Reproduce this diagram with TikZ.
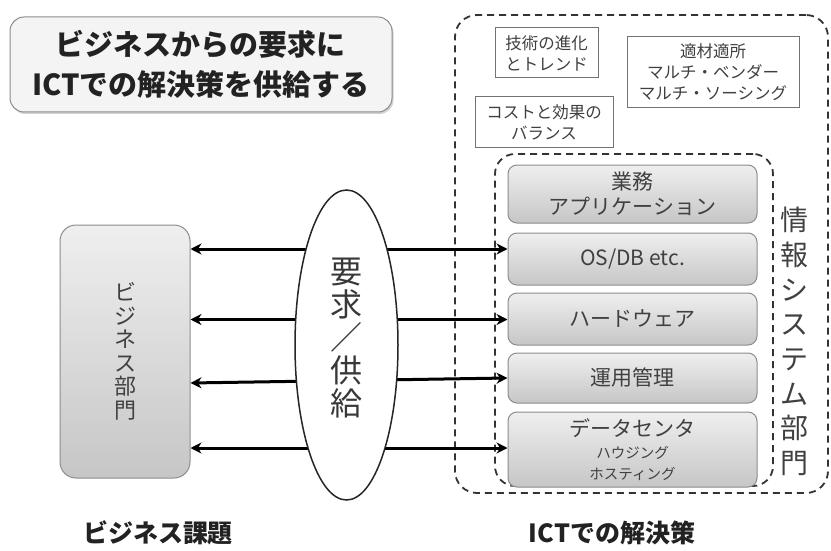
\documentclass[tikz,border=0pt]{standalone}
\usepackage{fontspec}
\setmainfont{Noto Sans CJK JP}
\usetikzlibrary{shapes.geometric,arrows.meta,shadows}
\definecolor{txt}{HTML}{404040}
\definecolor{dark}{HTML}{222222}
\definecolor{boxline}{HTML}{8C8C8C}
\definecolor{gtop}{HTML}{EFEFEF}
\definecolor{gbot}{HTML}{C6C6C6}
\definecolor{dash}{HTML}{333333}
\begin{document}
\begin{tikzpicture}[x=1pt,y=-1pt,
  titlebox/.style={draw=boxline,line width=1pt,rounded corners=14pt,fill=gtop!70!white,
    drop shadow={shadow xshift=1.5pt,shadow yshift=-2pt,fill=black!35},
    minimum width=382pt,minimum height=95pt,align=center,text=dark,
    font=\fontsize{29}{40}\selectfont\bfseries,inner sep=0pt},
  dashbox/.style={draw=dash,line width=1.8pt,dash pattern=on 7pt off 5pt,rounded corners=22pt,inner sep=0pt},
  smallbox/.style={draw=black!55,line width=1pt,fill=white,align=center,text=txt,
    font=\fontsize{16.5}{21}\selectfont,inner sep=0pt},
  stackbox/.style={draw=boxline,line width=1pt,rounded corners=9pt,top color=gtop,bottom color=gbot,
    minimum width=249pt,align=center,text=txt,inner sep=0pt,font=\fontsize{21}{25}\selectfont},
  vtext/.style={align=center,text=txt,inner sep=0pt},
  conn/.style={line width=3pt,{Stealth[length=11pt,width=11pt]}-{Stealth[length=11pt,width=11pt]}},
  bottomlabel/.style={text=dark,font=\fontsize{25}{30}\selectfont\bfseries,inner sep=0pt}]
\useasboundingbox (0,0) rectangle (831,551);

% title
\node[titlebox] (title) at (201,64.5) {ビジネスからの要求に\\ICTでの解決策を供給する};

% dashed regions
\node[dashbox,minimum width=373pt,minimum height=478pt] (outer) at (641.5,254) {};
\node[dashbox,minimum width=278pt,minimum height=332pt,rounded corners=20pt] (inner) at (634,320) {};

% small boxes
\node[smallbox,minimum width=103pt,minimum height=50pt] (tech) at (546.5,53) {技術の進化\\とトレンド};
\node[smallbox,minimum width=172pt,minimum height=71pt] (multi) at (713,72.5) {適材適所\\マルチ・ベンダー\\マルチ・ソーシング};
\node[smallbox,minimum width=138pt,minimum height=50pt] (cost) at (544,122) {コストと効果の\\バランス};

% stack
\node[stackbox,minimum height=58pt] (app) at (632.5,194) {業務\\アプリケーション};
\node[stackbox,minimum height=52pt] (os) at (632.5,259) {OS/DB etc.};
\node[stackbox,minimum height=52pt] (hw) at (632.5,319) {ハードウェア};
\node[stackbox,minimum height=50pt] (ops) at (632.5,378) {運用管理};
\node[stackbox,minimum height=75pt] (dc) at (632.5,449.5) {データセンタ\\[-3pt]{\fontsize{14.5}{18}\selectfont ハウジング}\\[-4pt]{\fontsize{14.5}{18}\selectfont ホスティング}};

% vertical label
\node[vtext,font=\fontsize{28}{34.7}\selectfont] (dept) at (794,341.5) {情\\報\\シ\\ス\\テ\\ム\\部\\門};

% business box
\node[draw=boxline,line width=1pt,rounded corners=16pt,top color=gtop,bottom color=gbot,
  minimum width=130pt,minimum height=253pt,inner sep=0pt] (biz) at (125,351.5) {};
\node[vtext,font=\fontsize{22}{23.5}\selectfont] (biztext) at (biz.center) {ビ\\ジ\\ネ\\ス\\部\\門};

% connectors
\coordinate (l1) at (biz.east |- 0,249);
\coordinate (r1) at (os.west |- 0,249);
\coordinate (l2) at (biz.east |- 0,319.5);
\coordinate (r2) at (hw.west |- 0,319.5);
\coordinate (l3) at (biz.east |- 0,383);
\coordinate (r3) at (ops.west |- 0,378);
\coordinate (l4) at (biz.east |- 0,448);
\coordinate (r4) at (dc.west |- 0,448);
\draw[conn] (l1) -- (r1);
\draw[conn] (l2) -- (r2);
\draw[conn] (l3) -- (r3);
\draw[conn] (l4) -- (r4);

% ellipse
\node[ellipse,draw=black!85,line width=1.5pt,fill=white,minimum width=103pt,minimum height=310pt,inner sep=0pt] (req) at (346.5,345) {};
\node[vtext,font=\fontsize{32}{33}\selectfont,text=dark!90] (reqtext) at (346.5,338) {要\\求\\／\\供\\給};

% bottom labels
\node[bottomlabel] (lblbiz) at (158,533) {ビジネス課題};
\node[bottomlabel] (lblict) at (612,533) {ICTでの解決策};
\end{tikzpicture}
\end{document}
